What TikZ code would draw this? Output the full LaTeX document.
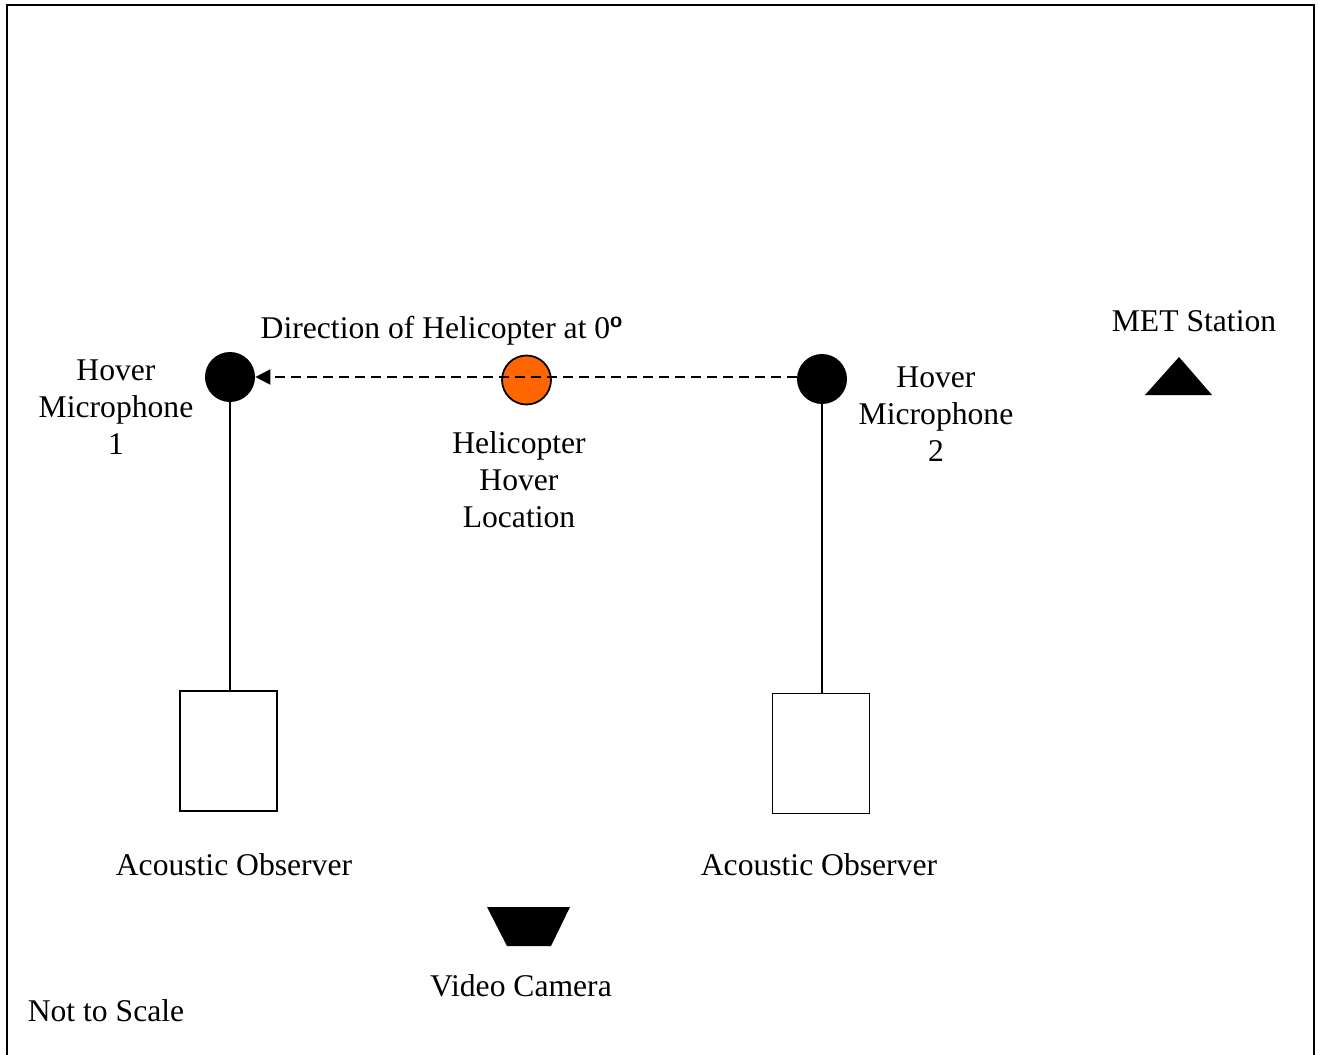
\documentclass[tikz,border=0pt]{standalone}
\usepackage{fontspec}
\setmainfont{Liberation Serif}
\usetikzlibrary{arrows.meta, calc}

\begin{document}
\begin{tikzpicture}[x=0.02cm, y=-0.02cm,
	every node/.style={font=\fontsize{18}{21}\selectfont},
	mic/.style={circle, fill=black, inner sep=0pt, minimum size=1cm},
	heli/.style={circle, draw=black, line width=1pt, fill=heliorange, inner sep=0pt, minimum size=0.98cm},
	obsbox/.style={rectangle, draw=black, line width=1pt, inner sep=0pt, minimum width=1.94cm, minimum height=2.4cm},
	label/.style={align=center, inner sep=0pt}]
			\definecolor{heliorange}{RGB}{255,102,0}
			\useasboundingbox (0,0) rectangle (1319,1055);
			\draw[line width=1.6pt] (7,1060)--(7,5)--(1314,5)--(1314,1060);
			
			\node[mic] (mic1) at (230,377) {};
			\node[mic] (mic2) at (822,379) {};
			\node[heli] (heli) at (526.5,380) {};
			\node[obsbox] (obs1) at (228.5,751) {};
			\node[obsbox] (obs2) at (821,753.5) {};
			
			\draw[line width=1.1pt, dash pattern=on 0.2cm off 0.12cm, -{Triangle[length=0.3cm, width=0.3cm]}] (mic1.east -| mic2.west) -- (mic1.east);
			\draw[line width=1pt] (mic1) -- (mic1 |- obs1.north);
			\draw[line width=1pt] (mic2) -- (mic2 |- obs2.north);
			
			% MET station and video camera
			\fill (1179,357)--(1212,395)--(1145,395)--cycle;
			\fill (487,907)--(570,907)--(551,946)--(507,946)--cycle;
			
			\node[label] (mic1lbl) at (116,407) {Hover\\Microphone\\1};
			\node[label] (mic2lbl) at (936,414) {Hover\\Microphone\\2};
			\node[label] (helilbl) at (519,480) {Helicopter\\Hover\\Location};
			\node[label] (dirlbl) at (442,331) {Direction of Helicopter at 0\textsuperscript{\sffamily\bfseries o}};
			\node[label] (metlbl) at (1194,321) {MET Station};
			\node[label] (obs1lbl) at (234,865) {Acoustic Observer};
			\node[label] (obs2lbl) at (819,865) {Acoustic Observer};
			\node[label] (camlbl) at (521,986) {Video Camera};
			\node[label] (scalelbl) at (106,1011) {Not to Scale};
			\end{tikzpicture}
\end{document}
